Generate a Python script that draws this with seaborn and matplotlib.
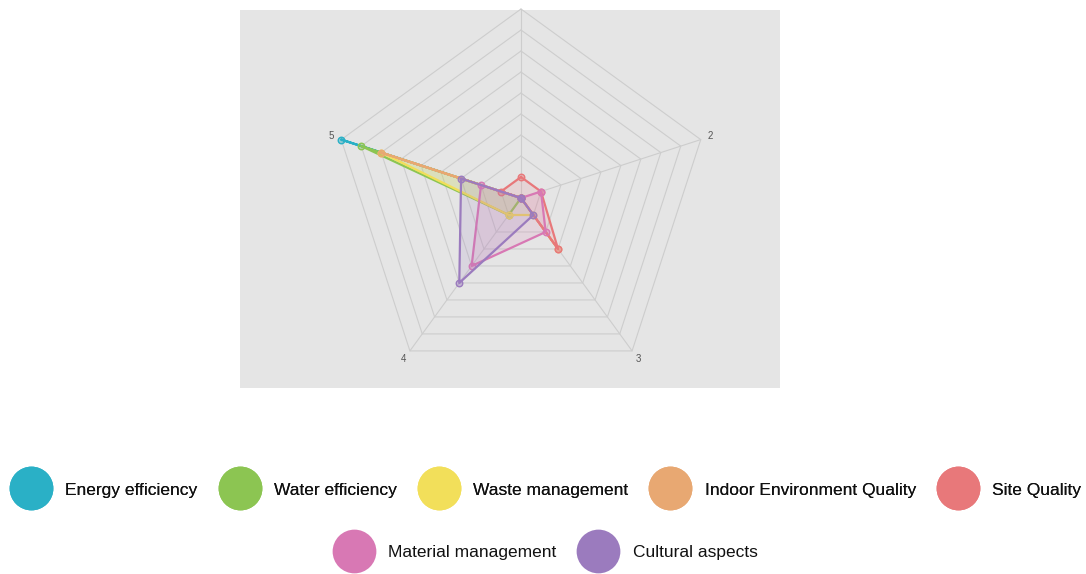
import numpy as np
import matplotlib
matplotlib.use("Agg")
import matplotlib.pyplot as plt
from matplotlib.lines import Line2D
import seaborn as sns

# Radar axes (criterion rating 1-5) and the rated categories
axis_labels = ["1", "2", "3", "4", "5"]
categories = ["Energy efficiency", "Water efficiency", "Waste management",
              "Indoor Environment Quality", "Site Quality",
              "Material management", "Cultural aspects"]

# Number of responses per rating, one list per category
energy_efficiency = [0, 0, 0, 0, 9]
water_efficiency = [0, 0, 0, 1, 8]
waste_management = [0, 0, 1, 1, 7]
indoor_environment = [0, 0, 3, 0, 7]
site_quality = [1, 1, 3, 0, 1]
material_management = [0, 1, 2, 4, 2]
cultural_aspects = [0, 0, 1, 5, 3]

series = [energy_efficiency, water_efficiency, waste_management,
          indoor_environment, site_quality, material_management,
          cultural_aspects]
palette = ["#2AB0C6", "#8CC552", "#F2DF5A", "#E8A872",
           "#E8787A", "#D878B4", "#9B7BBE"]
r_max = 9

sns.set_theme(style="white")
plt.rcParams["font.family"] = ["Liberation Sans", "DejaVu Sans"]

W, H = 1086, 574
fig = plt.figure(figsize=(W / 100, H / 100), dpi=100)

# grey panel behind the radar
bg = fig.add_axes([240 / W, 1 - 388 / H, 540 / W, 378 / H])
bg.set_facecolor("#E5E5E5")
bg.set_xticks([])
bg.set_yticks([])
for s in bg.spines.values():
    s.set_visible(False)

ax = fig.add_axes([332 / W, 1 - 387 / H, 378 / W, 378 / H], projection="polar")
ax.set_theta_zero_location("N")
ax.set_theta_direction(-1)
ax.set_ylim(0, r_max)
ax.grid(False)
ax.spines["polar"].set_visible(False)
ax.patch.set_alpha(0)
ax.set_xticks([])
ax.set_yticks([])

n = len(axis_labels)
theta = np.linspace(0, 2 * np.pi, n, endpoint=False)
theta_closed = np.append(theta, theta[0] + 2 * np.pi)

# pentagonal grid rings and spokes
grid_col = "#CDCDCD"
for k in range(1, r_max + 1):
    ax.plot(theta_closed, [k] * (n + 1), color=grid_col, lw=0.8,
            zorder=1, clip_on=False)
for t in theta:
    ax.plot([t, t], [0, r_max], color=grid_col, lw=0.8, zorder=1, clip_on=False)

# spoke labels; the top one sits above the figure edge, so it is left out
for t, lbl in list(zip(theta, axis_labels))[1:]:
    ax.text(t, r_max + 0.5, lbl, ha="center", va="center", fontsize=7,
            color="#555555", clip_on=False)

for i, (vals, col) in enumerate(zip(series, palette)):
    vals_closed = np.append(vals, vals[0])
    z = 3 + i * 3
    ax.fill(theta_closed, vals_closed, color=col, alpha=0.15, lw=0, zorder=z)
    sns.lineplot(x=theta_closed, y=vals_closed, sort=False, estimator=None,
                 color=col, lw=1.6, ax=ax, zorder=z + 1, clip_on=False)
    sns.scatterplot(x=theta, y=np.array(vals), ax=ax, s=22,
                    facecolor=matplotlib.colors.to_rgba(col, 0.45),
                    edgecolor=col, linewidth=1.0, zorder=z + 2, clip_on=False)
ax.set_xlabel("")
ax.set_ylabel("")

handles = [Line2D([], [], marker="o", ls="", markersize=31.5,
                  markerfacecolor=c, markeredgewidth=0) for c in palette]

leg_kw = dict(frameon=False, fontsize=12.5, handlelength=2.45,
              handletextpad=0.75, columnspacing=1.2, borderpad=0,
              labelcolor="#111111", loc="center")
leg1 = fig.legend(handles[:5], categories[:5], ncol=5,
                  bbox_to_anchor=(545.5 / W, 1 - 490 / H), **leg_kw)
fig.add_artist(leg1)
fig.legend(handles[5:], categories[5:], ncol=2,
           bbox_to_anchor=(545 / W, 1 - 552 / H), **leg_kw)

fig.savefig("out.png", dpi=100, facecolor="white")
